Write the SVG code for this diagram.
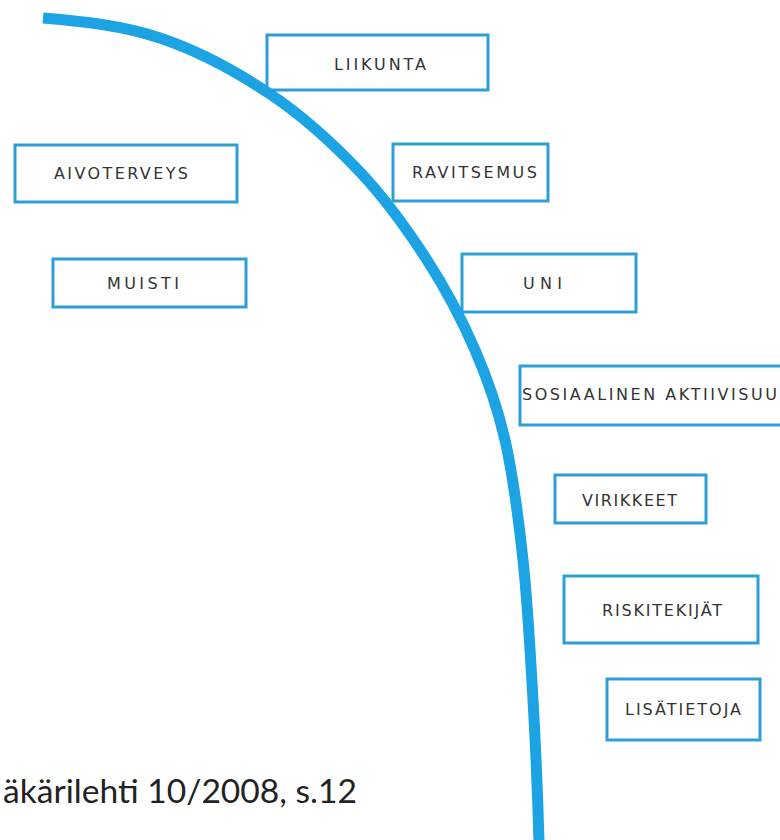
<svg xmlns="http://www.w3.org/2000/svg" width="780" height="840" viewBox="0 0 780 840">
<style>
.box{fill:#fff;stroke:#2e9fd6;stroke-width:3}
.lbl{font-family:"DejaVu Sans","Open Sans",sans-serif;font-size:16px;fill:#333}
.arc{fill:none;stroke:#1ba3e4;stroke-width:11;stroke-linecap:butt}
</style>
<rect width="780" height="840" fill="#fff"/>
<g id="liikunta"><rect class="box" x="267" y="35" width="221" height="55"/><text class="lbl" x="334" y="70" textLength="92" lengthAdjust="spacing">LIIKUNTA</text></g>
<g id="aivoterveys"><rect class="box" x="15" y="145" width="222" height="57"/><text class="lbl" x="54" y="179" textLength="134" lengthAdjust="spacing">AIVOTERVEYS</text></g>
<g id="muisti"><rect class="box" x="53" y="259" width="193" height="48"/><text class="lbl" x="107" y="289" textLength="72" lengthAdjust="spacing">MUISTI</text></g>
<g id="ravitsemus"><rect class="box" x="393" y="144" width="155" height="57"/><text class="lbl" x="412" y="178" textLength="125" lengthAdjust="spacing">RAVITSEMUS</text></g>
<g id="uni"><rect class="box" x="462" y="254" width="174" height="58"/><text class="lbl" x="523" y="289" textLength="39" lengthAdjust="spacing">UNI</text></g>
<g id="sosiaalinen"><path class="box" d="M780 366 H520 V425 H780"/><text class="lbl" x="522" y="400" textLength="255" lengthAdjust="spacing">SOSIAALINEN AKTIIVISUU</text></g>
<g id="virikkeet"><rect class="box" x="555" y="475" width="151" height="48"/><text class="lbl" x="582" y="506" textLength="95" lengthAdjust="spacing">VIRIKKEET</text></g>
<g id="riskitekijat"><rect class="box" x="564" y="576" width="194" height="67"/><text class="lbl" x="602" y="616" textLength="120" lengthAdjust="spacing">RISKITEKIJÄT</text></g>
<g id="lisatietoja"><rect class="box" x="607" y="679" width="153" height="61"/><text class="lbl" x="625" y="715" textLength="116" lengthAdjust="spacing">LISÄTIETOJA</text></g>
<g id="connectors">
<path class="arc" d="M43 18 C82 21.3 122.2 25.3 160 38 C197.8 50.7 236.7 71.7 270 94 C303.3 116.3 333.8 144.3 360 172 C386.2 199.7 407.8 230.3 427 260 C446.2 289.7 462 320 475 350 C488 380 497 405 505 440 C513 475 518.3 516.7 523 560 C527.7 603.3 530.3 653 533 700 C535.7 747 537.7 794.7 539 842"/>
</g>
<text x="3" y="803" font-family="Lato,'Open Sans',sans-serif" font-size="33" fill="#222" textLength="354" lengthAdjust="spacingAndGlyphs">äkärilehti 10/2008, s.12</text>
</svg>
